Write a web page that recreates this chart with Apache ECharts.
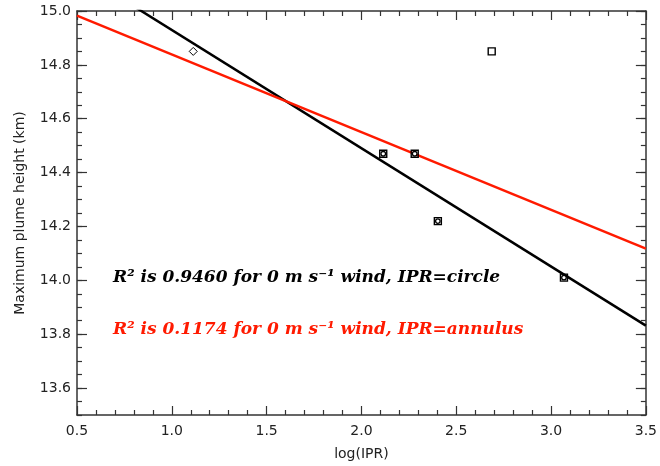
<!DOCTYPE html>
<html><head><meta charset="utf-8">
<script src="https://cdn.jsdelivr.net/npm/echarts@6/dist/echarts.min.js"></script>
<style>html,body{margin:0;padding:0;background:#fff}#c{width:660px;height:466px}</style>
</head><body><div id="c"></div>
<script>
// ---- data ----
const yTicks = [13.6, 13.8, 14.0, 14.2, 14.4, 14.6, 14.8, 15.0];
const squareX = [2.115, 2.281, 2.403, 2.687, 3.068];
const squareY = [14.47, 14.47, 14.22, 14.85, 14.01];
const circleX = [2.115, 2.281, 2.403, 3.068];
const circleY = [14.47, 14.47, 14.22, 14.01];
const diamondX = [1.113];
const diamondY = [14.85];
const fitCircleX = [0.5, 3.5];
const fitCircleY = [15.149, 13.832];
const fitAnnulusX = [0.5, 3.5];
const fitAnnulusY = [14.983, 14.118];
const labelCircle = "R\u00b2 is 0.9460 for 0 m s\u207b\u00b9 wind, IPR=circle";
const labelAnnulus = "R\u00b2 is 0.1174 for 0 m s\u207b\u00b9 wind, IPR=annulus";
const xTitle = "log(IPR)";
const yTitle = "Maximum plume height (km)";

const zip = (a, b) => a.map((v, i) => [v, b[i]]);
const axisCol = '#333';
const labelFont = { fontFamily: 'DejaVu Sans', fontSize: 14, color: '#222' };

const chart = echarts.init(document.getElementById('c'), null, { renderer: 'canvas' });
const xBase = {
  type: 'value', min: 0.5, max: 3.5, interval: 0.5,
  axisLine: { show: true, onZero: false, lineStyle: { color: axisCol, width: 1.5 } },
  axisTick: { show: true, inside: true, length: 9, lineStyle: { color: axisCol, width: 1.2 } },
  minorTick: { show: true, splitNumber: 5, length: 5, lineStyle: { color: axisCol, width: 1.2 } },
  splitLine: { show: false }, minorSplitLine: { show: false }
};
const yMajor = {
  type: 'value', min: 13.5, max: 15.0,
  axisLine: { show: true, onZero: false, lineStyle: { color: axisCol, width: 1.5 } },
  axisTick: { show: true, inside: true, length: 10, customValues: yTicks, lineStyle: { color: axisCol, width: 1.2 } },
  splitLine: { show: false }
};
const yMinor = {
  type: 'value', min: 13.5, max: 15.0, interval: 0.05,
  axisLine: { show: false },
  axisTick: { show: true, inside: true, length: 5, lineStyle: { color: axisCol, width: 1.2 } },
  axisLabel: { show: false }, splitLine: { show: false }
};
chart.setOption({
  animation: false,
  backgroundColor: '#fff',
  grid: { left: 77, right: 11, top: 11, bottom: 48 },
  xAxis: [
    Object.assign({}, xBase, {
      position: 'bottom',
      axisLabel: Object.assign({ margin: 9, formatter: v => v.toFixed(1) }, labelFont),
      name: xTitle, nameLocation: 'middle', nameGap: 32,
      nameTextStyle: labelFont
    }),
    Object.assign({}, xBase, { position: 'top', axisLabel: { show: false } })
  ],
  yAxis: [
    Object.assign({}, yMajor, {
      position: 'left',
      axisLabel: Object.assign({ margin: 6, customValues: yTicks, formatter: v => v.toFixed(1) }, labelFont),
      name: yTitle, nameLocation: 'middle', nameGap: 50, nameRotate: 90,
      nameTextStyle: labelFont
    }),
    Object.assign({}, yMajor, { position: 'right', axisLabel: { show: false } }),
    Object.assign({}, yMinor, { position: 'left' }),
    Object.assign({}, yMinor, { position: 'right' })
  ],
  series: [
    { type: 'line', data: zip(fitCircleX, fitCircleY), showSymbol: false, silent: true, clip: true,
      lineStyle: { color: '#000', width: 2.5 }, z: 2 },
    { type: 'line', data: zip(fitAnnulusX, fitAnnulusY), showSymbol: false, silent: true, clip: true,
      lineStyle: { color: '#ff1a00', width: 2.5 }, z: 2 },
    { type: 'scatter', data: zip(squareX, squareY), symbol: 'rect', symbolSize: 7,
      itemStyle: { color: 'rgba(0,0,0,0)', borderColor: '#000', borderWidth: 1.4, opacity: 1 }, z: 3 },
    { type: 'scatter', data: zip(circleX, circleY), symbol: 'circle', symbolSize: 4.5,
      itemStyle: { color: '#fff', borderColor: '#000', borderWidth: 1.3, opacity: 1 }, z: 4 },
    { type: 'scatter', data: zip(diamondX, diamondY), symbol: 'diamond', symbolSize: 8,
      itemStyle: { color: '#fff', borderColor: '#000', borderWidth: 1, opacity: 1 }, z: 4 }
  ],
  graphic: [
    { type: 'text', x: 113, y: 278, style: { text: labelCircle, fill: '#000',
      font: 'italic bold 17px "DejaVu Serif"', textVerticalAlign: 'middle' } },
    { type: 'text', x: 113, y: 330, style: { text: labelAnnulus, fill: '#ff1a00',
      font: 'italic bold 17px "DejaVu Serif"', textVerticalAlign: 'middle' } }
  ]
});
</script>
</body></html>
